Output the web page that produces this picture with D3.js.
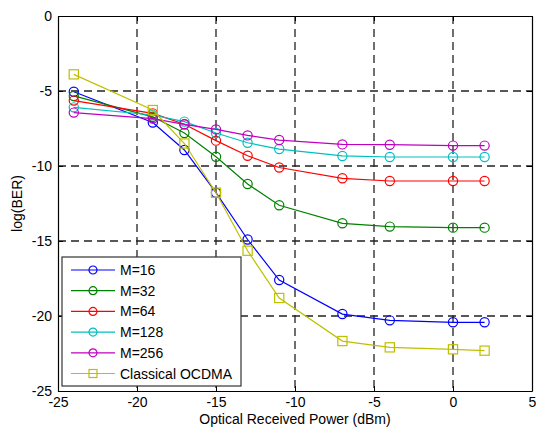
<!DOCTYPE html>
<html>
<head>
<meta charset="utf-8">
<script src="https://cdn.jsdelivr.net/npm/d3@7"></script>
<style>
  html, body { margin: 0; padding: 0; background: #fff; overflow: hidden; }
  svg { display: block; font-family: "Liberation Sans", Arial, sans-serif; }
</style>
</head>
<body>
<div id="chart"></div>
<script>
// optical received power (dBm)
const power = [-24, -19, -17, -15, -13, -11, -7, -4, 0, 2];

// log(BER) per series
const m16 = [-5.05, -7.1, -8.93, -11.78, -14.9, -17.6, -19.87, -20.29, -20.42, -20.42];
const m32 = [-5.33, -6.72, -7.8, -9.38, -11.2, -12.62, -13.82, -14.04, -14.11, -14.11];
const m64 = [-5.64, -6.49, -7.22, -8.31, -9.32, -10.1, -10.82, -11.0, -11.0, -11.0];
const m128 = [-6.09, -6.6, -7.04, -7.8, -8.45, -8.87, -9.33, -9.4, -9.4, -9.4];
const m256 = [-6.44, -6.84, -7.22, -7.56, -7.96, -8.27, -8.56, -8.58, -8.64, -8.64];
const classical = [-3.89, -6.27, -8.5, -11.78, -15.65, -18.8, -21.67, -22.09, -22.22, -22.31];

const seriesNames = ["M=16", "M=32", "M=64", "M=128", "M=256", "Classical OCDMA"];
const seriesColors = ["#0000ff", "#008000", "#ff0000", "#00bfbf", "#bf00bf", "#bfbf00"];
const xTicks = [-25, -20, -15, -10, -5, 0, 5];
const yTicks = [0, -5, -10, -15, -20, -25];

const series = [m16, m32, m64, m128, m256, classical].map((vals, i) => ({
  name: seriesNames[i],
  color: seriesColors[i],
  marker: i === 5 ? "square" : "circle",
  values: vals.map((v, j) => ({ x: power[j], y: v })),
}));

const width = 538;
const height = 430;
const margin = { top: 16, right: 6, bottom: 39, left: 58 };
const innerWidth = width - margin.left - margin.right;
const innerHeight = height - margin.top - margin.bottom;

const x = d3.scaleLinear().domain([-25, 5]).range([0, innerWidth]);
const y = d3.scaleLinear().domain([-25, 0]).range([innerHeight, 0]);

const svg = d3
  .select("#chart")
  .append("svg")
  .attr("width", width)
  .attr("height", height);

const chart = svg
  .append("g")
  .attr("transform", `translate(${margin.left}, ${margin.top})`);

// grid lines (dashed)
chart
  .append("g")
  .selectAll("line")
  .data(xTicks.slice(1, -1))
  .join("line")
  .attr("x1", (d) => x(d))
  .attr("x2", (d) => x(d))
  .attr("y1", 0)
  .attr("y2", innerHeight)
  .attr("stroke", "#222")
  .attr("stroke-width", 1.3)
  .attr("stroke-dasharray", "8,5");

chart
  .append("g")
  .selectAll("line")
  .data(yTicks.slice(1, -1))
  .join("line")
  .attr("x1", 0)
  .attr("x2", innerWidth)
  .attr("y1", (d) => y(d))
  .attr("y2", (d) => y(d))
  .attr("stroke", "#222")
  .attr("stroke-width", 1.3)
  .attr("stroke-dasharray", "8,5");

// axes
chart
  .append("g")
  .attr("transform", `translate(0, ${innerHeight})`)
  .call(d3.axisBottom(x).tickValues(xTicks).tickSizeInner(-5).tickSizeOuter(0).tickPadding(6));

chart
  .append("g")
  .call(d3.axisLeft(y).tickValues(yTicks).tickSizeInner(-5).tickSizeOuter(0).tickPadding(6));

chart
  .append("g")
  .attr("transform", `translate(${innerWidth}, 0)`)
  .call(d3.axisRight(y).tickValues(yTicks).tickSizeInner(-5).tickSizeOuter(0).tickFormat(""));

chart
  .append("g")
  .call(d3.axisTop(x).tickValues(xTicks).tickSizeInner(-5).tickSizeOuter(0).tickFormat(""));

chart.selectAll(".domain").attr("stroke", "#000").attr("stroke-width", 1.2);
chart.selectAll(".tick line").attr("stroke", "#000");
chart
  .selectAll(".tick text")
  .attr("font-size", 14)
  .attr("fill", "#000")
  .text(function () {
    return d3.select(this).text().replace("−", "-");
  });

// axis titles
svg
  .append("text")
  .attr("x", margin.left + innerWidth / 2)
  .attr("y", 424)
  .attr("text-anchor", "middle")
  .attr("font-size", 14)
  .text("Optical Received Power (dBm)");

svg
  .append("text")
  .attr("transform", `translate(22, ${margin.top + innerHeight / 2}) rotate(-90)`)
  .attr("text-anchor", "middle")
  .attr("font-size", 14)
  .text("log(BER)");

// lines
const line = d3
  .line()
  .x((d) => x(d.x))
  .y((d) => y(d.y));

function drawMarker(sel, type, color, size) {
  if (type === "square") {
    sel
      .append("rect")
      .attr("x", -size)
      .attr("y", -size)
      .attr("width", size * 2)
      .attr("height", size * 2)
      .attr("fill", "none")
      .attr("stroke", color)
      .attr("stroke-width", 1.2);
  } else {
    sel
      .append("circle")
      .attr("r", size)
      .attr("fill", "none")
      .attr("stroke", color)
      .attr("stroke-width", 1.2);
  }
}

series.forEach((s) => {
  const g = chart.append("g");
  g.append("path")
    .datum(s.values)
    .attr("fill", "none")
    .attr("stroke", s.color)
    .attr("stroke-width", 1.2)
    .attr("d", line);

  g.selectAll("g.pt")
    .data(s.values)
    .join("g")
    .attr("class", "pt")
    .attr("transform", (d) => `translate(${x(d.x)}, ${y(d.y)})`)
    .each(function () {
      drawMarker(d3.select(this), s.marker, s.color, 4.6);
    });
});

// legend
const legend = chart.append("g").attr("transform", "translate(4, 241)");

legend
  .append("rect")
  .attr("width", 179)
  .attr("height", 129)
  .attr("fill", "#fff")
  .attr("stroke", "#333")
  .attr("stroke-width", 1.2);

series.forEach((s, i) => {
  const row = legend.append("g").attr("transform", `translate(0, ${13 + i * 20.7})`);
  row
    .append("line")
    .attr("x1", 9)
    .attr("x2", 53)
    .attr("stroke", s.color)
    .attr("stroke-width", 1.2);
  drawMarker(row.append("g").attr("transform", "translate(31, 0)"), s.marker, s.color, 4);
  row
    .append("text")
    .attr("x", 58)
    .attr("y", 5)
    .attr("font-size", 14)
    .text(s.name);
});
</script>
</body>
</html>
